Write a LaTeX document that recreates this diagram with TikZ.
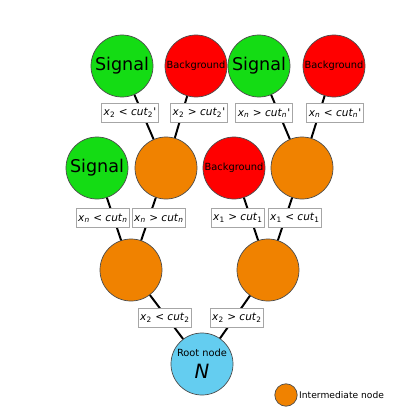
\documentclass[tikz,border=0pt]{standalone}
\usepackage{fontspec}
\setmainfont{DejaVu Sans}
\usepackage{tikz}
\usetikzlibrary{positioning}

\definecolor{sigcol}{RGB}{20,220,20}
\definecolor{bkgcol}{RGB}{255,0,0}
\definecolor{midcol}{RGB}{240,130,0}
\definecolor{rootcol}{RGB}{100,205,240}

% cut label: variable, index, relation, cut index
\newcommand{\cutlab}[4]{\textit{x}\textsubscript{#2} #3 \textit{cut}\textsubscript{#4}}

\begin{document}
\begin{tikzpicture}[
    x=0.025cm, y=-0.025cm,
    leaf/.style={circle, draw=gray!60!black, line width=0.5pt, minimum size=1.55cm, inner sep=0pt, align=center},
    signal/.style={leaf, fill=sigcol, font=\fontsize{12.5}{14}\selectfont},
    bkg/.style={leaf, fill=bkgcol, font=\fontsize{7}{8}\selectfont},
    inter/.style={leaf, fill=midcol},
    cutbox/.style={rectangle, draw=gray!70, fill=white, line width=0.6pt, inner sep=1.5pt, minimum height=0.47cm, font=\fontsize{7.5}{9}\selectfont},
    edge/.style={line width=1.4pt, black}
]
\useasboundingbox (0,0) rectangle (409,409);

% Row 0: Root (bottom center)
\node[leaf, fill=rootcol] (root) at (202,364) {{\fontsize{7}{8}\selectfont Root node}\\[4pt]{\fontsize{14}{16}\selectfont\itshape N}};

% Row 1: intermediate nodes
\node[inter] (midL) at (131,270) {};
\node[inter] (midR) at (268,270) {};

% Row 2
\node[signal] (sigA) at (97,168) {Signal};
\node[inter] (midLL) at (166,168) {};
\node[bkg] (bkgA) at (234,168) {Background};
\node[inter] (midRR) at (302,168) {};

% Row 3: top leaves
\node[signal] (sigB) at (122,66) {Signal};
\node[bkg] (bkgB) at (196,66) {Background};
\node[signal] (sigC) at (259,66) {Signal};
\node[bkg] (bkgC) at (334,66) {Background};

% === Edges ===
\draw[edge] (root) -- (midL);
\draw[edge] (root) -- (midR);
\draw[edge] (midL) -- (sigA);
\draw[edge] (midL) -- (midLL);
\draw[edge] (midR) -- (bkgA);
\draw[edge] (midR) -- (midRR);
\draw[edge] (midLL) -- (sigB);
\draw[edge] (midLL) -- (bkgB);
\draw[edge] (midRR) -- (sigC);
\draw[edge] (midRR) -- (bkgC);

% === Cut labels ===
\node[cutbox] (cutL) at (165,318) {\cutlab{x}{2}{<}{2}};
\node[cutbox] (cutR) at (237,318) {\cutlab{x}{2}{>}{2}};
\node[cutbox] (cutLa) at (103,218) {\cutlab{x}{\itshape n}{<}{\itshape n}};
\node[cutbox] (cutLb) at (159,218) {\cutlab{x}{\itshape n}{>}{\itshape n}};
\node[cutbox] (cutRa) at (238,218) {\cutlab{x}{1}{>}{1}};
\node[cutbox] (cutRb) at (295,218) {\cutlab{x}{1}{<}{1}};
\node[cutbox] (cutTa) at (130,113) {\cutlab{x}{2}{<}{2}\textquotesingle};
\node[cutbox] (cutTb) at (199,113) {\cutlab{x}{2}{>}{2}\textquotesingle};
\node[cutbox] (cutTc) at (264,113) {\cutlab{x}{\itshape n}{>}{\itshape n}\textquotesingle};
\node[cutbox] (cutTd) at (335,113) {\cutlab{x}{\itshape n}{<}{\itshape n}\textquotesingle};

% Legend
\node[circle, draw=gray!60!black, line width=0.5pt, fill=midcol, minimum size=0.56cm, inner sep=0pt] (legdot) at (286,395) {};
\node[right=0pt of legdot, font=\fontsize{6.5}{7}\selectfont, inner sep=1pt] (legtxt) {Intermediate node};
\end{tikzpicture}
\end{document}
